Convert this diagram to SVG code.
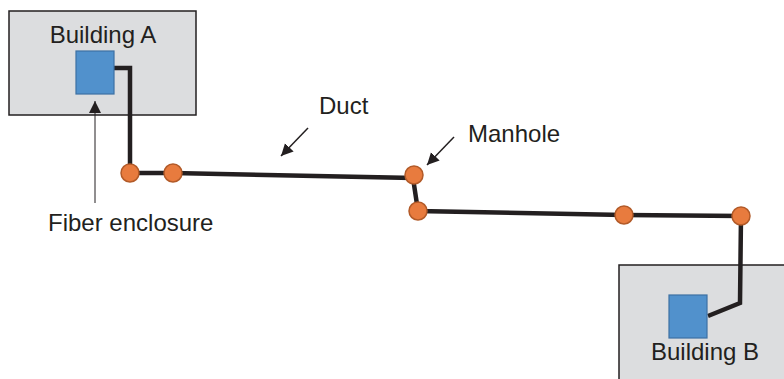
<svg xmlns="http://www.w3.org/2000/svg" width="784" height="379" viewBox="0 0 784 379">
  <style>
    .bldg { fill: #dcdddf; stroke: #231f20; stroke-width: 1.5; }
    .encl { fill: #5191cc; stroke: #3d70a3; stroke-width: 1.2; }
    .duct { fill: none; stroke: #231f20; stroke-width: 4.5; stroke-linejoin: miter; }
    .mh { fill: #e87b3e; stroke: #b25a28; stroke-width: 1.5; }
    .lbl { font-family: "Liberation Sans", Arial, sans-serif; font-size: 24px; fill: #231f20; }
    .ptr { stroke: #231f20; fill: none; }
  </style>
  <defs>
    <marker id="headBig" viewBox="0 0 10 10" refX="10" refY="5" markerWidth="12" markerHeight="13" markerUnits="userSpaceOnUse" orient="auto">
      <path d="M0,0 L10,5 L0,10 Z" fill="#231f20"/>
    </marker>
  </defs>

  <g id="building-a">
    <rect class="bldg" x="9" y="11" width="187" height="104"/>
    <text class="lbl" x="103" y="43" text-anchor="middle" font-size="24.5">Building A</text>
  </g>

  <g id="building-b">
    <rect class="bldg" x="619" y="265" width="170" height="120"/>
    <text class="lbl" x="705" y="360" text-anchor="middle" font-size="24.5">Building B</text>
  </g>

  <g id="connectors">
    <!-- fiber route from enclosure A through manholes to enclosure B -->
    <polyline class="duct" points="114,68 130,68 130,173 173,173 413,178 418,211 624,215 741,216 740,303 708,316"/>
    <!-- label pointers -->
    <line class="ptr" stroke-width="1" x1="95" y1="203" x2="95" y2="101" marker-end="url(#headBig)"/>
    <line class="ptr" stroke-width="1.5" x1="308" y1="128" x2="281" y2="156" marker-end="url(#headBig)"/>
    <line class="ptr" stroke-width="1.5" x1="454" y1="137" x2="427" y2="165" marker-end="url(#headBig)"/>
  </g>

  <g id="enclosure-a">
    <rect class="encl" x="76" y="51" width="38" height="43"/>
  </g>
  <g id="enclosure-b">
    <rect class="encl" x="669" y="295" width="38" height="43"/>
  </g>

  <g id="manhole-1"><circle class="mh" cx="130" cy="173" r="9"/></g>
  <g id="manhole-2"><circle class="mh" cx="173" cy="173" r="9"/></g>
  <g id="manhole-3"><circle class="mh" cx="414" cy="175" r="9"/></g>
  <g id="manhole-4"><circle class="mh" cx="418" cy="211" r="9"/></g>
  <g id="manhole-5"><circle class="mh" cx="624" cy="215" r="9"/></g>
  <g id="manhole-6"><circle class="mh" cx="741" cy="216" r="9"/></g>

  <g id="labels">
    <text class="lbl" x="48" y="231" font-size="24.8">Fiber enclosure</text>
    <text class="lbl" x="319" y="114">Duct</text>
    <text class="lbl" x="468" y="142">Manhole</text>
  </g>
</svg>
